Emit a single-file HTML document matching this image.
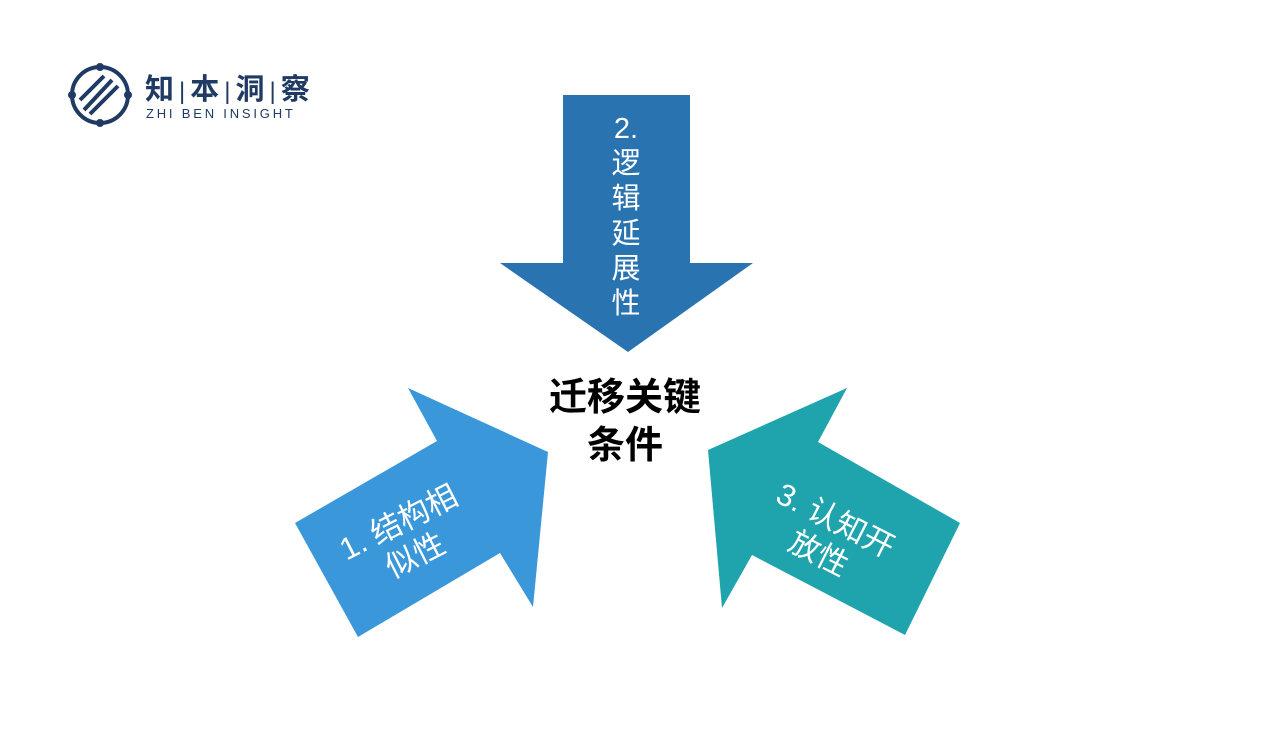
<!DOCTYPE html>
<html><head><meta charset="utf-8"><style>
body{margin:0;width:1267px;height:752px;background:#fff;position:relative;overflow:hidden;font-family:"Liberation Sans","Noto Sans CJK SC",sans-serif}
.t{position:absolute;color:#fff;text-align:center;line-height:1.2}
</style></head><body>
<svg width="1267" height="752" style="position:absolute;left:0;top:0">
<polygon points="563,95 690,95 690,263 753,263 628,352 500,263 563,263" fill="#2a73b1"/>
<polygon points="295,523 437,441 408,388 548,452 533,607 500,553 358,637" fill="#3a98da"/>
<polygon points="960,523 818,442 847,388 708,450 722,608 752,555 905,635" fill="#1fa3ad"/>
<g fill="none" stroke="#1f3a63" stroke-width="4">
<circle cx="100" cy="95" r="28"/>
<path d="M84,110 L112,80 M90,114 L118,86 M80,100 L104,76"/>
</g>
<g fill="#1f3a63"><circle cx="72" cy="95" r="4"/><circle cx="128" cy="95" r="4"/><circle cx="100" cy="67" r="4"/><circle cx="100" cy="123" r="4"/></g>
</svg>
<div style="position:absolute;left:145px;top:66px;font-size:29px;color:#1f3a63;font-weight:bold;letter-spacing:5px;white-space:nowrap">知<span style="font-weight:normal;font-size:24px">|</span>本<span style="font-weight:normal;font-size:24px">|</span>洞<span style="font-weight:normal;font-size:24px">|</span>察</div>
<div style="position:absolute;left:146px;top:106px;font-size:13px;color:#1f3a63;letter-spacing:2.8px">ZHI BEN INSIGHT</div>
<div class="t" style="left:606px;top:112px;width:40px;font-size:29px;line-height:35px">2.<br>逻<br>辑<br>延<br>展<br>性</div>
<div style="position:absolute;left:515px;top:374px;width:220px;text-align:center;font-size:38px;font-weight:bold;line-height:48px;color:#000">迁移关键<br>条件</div>
<div class="t" style="left:322px;top:502px;width:170px;font-size:31px;transform:rotate(-27deg)">1. 结构相<br>似性</div>
<div class="t" style="left:742px;top:500px;width:170px;font-size:31px;transform:rotate(27deg)">3. 认知开<br>放性</div>
</body></html>
